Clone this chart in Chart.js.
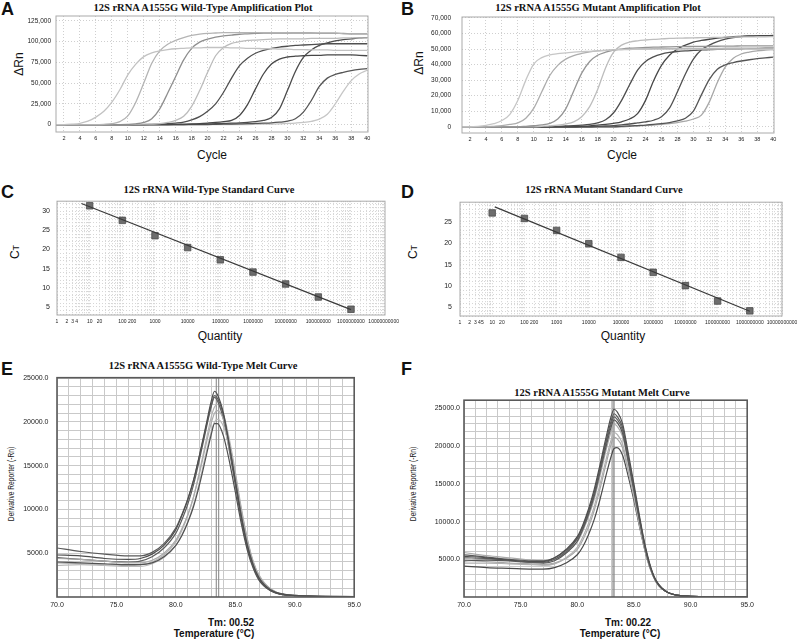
<!DOCTYPE html>
<html>
<head>
<meta charset="utf-8">
<script src="https://cdn.jsdelivr.net/npm/chart.js@4.4.0/dist/chart.umd.min.js"></script>
<style>
  html, body { margin: 0; padding: 0; background: #fff; overflow: hidden; }
  body { width: 797px; height: 639px; position: relative; font-family: "Liberation Sans", Arial, sans-serif; color: #111; }
  canvas { position: absolute; }
  .t { position: absolute; white-space: nowrap; transform: translate(-50%, -50%); line-height: 1; }
  .title { font: bold 10.5px "Liberation Serif", "Times New Roman", serif; }
  .letter { position: absolute; font: bold 18px "Liberation Sans", Arial, sans-serif; line-height: 18px; }
  .ax { font: 12px "Liberation Sans", Arial, sans-serif; }
  .rot { transform: translate(-50%, -50%) rotate(-90deg); }
  .melt { font: bold 10px "Liberation Sans", Arial, sans-serif; }
  .dr { font: 9.5px "Liberation Sans", Arial, sans-serif; color: #222; transform: translate(-50%, -50%) rotate(-90deg) scaleX(0.7); }
</style>
</head>
<body>
<div class="letter" style="left:1px;top:0px">A</div>
<div class="letter" style="left:401px;top:0px">B</div>
<div class="letter" style="left:1px;top:183px">C</div>
<div class="letter" style="left:401px;top:183px">D</div>
<div class="letter" style="left:1px;top:360px">E</div>
<div class="letter" style="left:401px;top:360px">F</div>

<div class="t title" style="left:203px;top:7px">12S rRNA A1555G Wild-Type Amplification Plot</div>
<div class="t title" style="left:598px;top:7px">12S rRNA A1555G Mutant Amplification Plot</div>
<div class="t title" style="left:209px;top:189px">12S rRNA Wild-Type Standard Curve</div>
<div class="t title" style="left:604px;top:189px">12S rRNA Mutant Standard Curve</div>
<div class="t title" style="left:203px;top:365px">12S rRNA A1555G Wild-Type Melt Curve</div>
<div class="t title" style="left:602px;top:392px">12S rRNA A1555G Mutant Melt Curve</div>

<div class="t ax rot" style="left:19px;top:64px">ΔRn</div>
<div class="t ax rot" style="left:419px;top:63px">ΔRn</div>
<div class="t ax" style="left:212px;top:155px">Cycle</div>
<div class="t ax" style="left:622px;top:155px">Cycle</div>
<div class="t ax rot" style="left:15px;top:252px">C<span style="font-size:9px">T</span></div>
<div class="t ax rot" style="left:413px;top:252px">C<span style="font-size:9px">T</span></div>
<div class="t ax" style="left:220px;top:336px">Quantity</div>
<div class="t ax" style="left:623px;top:336px">Quantity</div>
<div class="t dr" style="left:10px;top:484px">Derivative Reporter (-Rn)</div>
<div class="t dr" style="left:412px;top:484px">Derivative Reporter (-Rn)</div>
<div class="t melt" style="left:231px;top:622px">Tm: 00.52</div>
<div class="t melt" style="left:214px;top:633px">Temperature (°C)</div>
<div class="t melt" style="left:628px;top:622px">Tm: 00.22</div>
<div class="t melt" style="left:620px;top:633px">Temperature (°C)</div>

<canvas id="ampWt" width="378" height="150" style="left:0px;top:0px"></canvas>
<canvas id="ampMut" width="378" height="151" style="left:406px;top:0px"></canvas>
<canvas id="stdWt" width="405" height="143" style="left:0px;top:190px"></canvas>
<canvas id="stdMut" width="400" height="144" style="left:403px;top:190px"></canvas>
<canvas id="meltWt" width="365" height="246" style="left:0px;top:365px"></canvas>
<canvas id="meltMut" width="354" height="219" style="left:404px;top:392px"></canvas>

<script>
// amplification plots: delta Rn per cycle
const cycles = [1,2,3,4,5,6,7,8,9,10,11,12,13,14,15,16,17,18,19,20,21,22,23,24,25,26,27,28,29,30,31,32,33,34,35,36,37,38,39,40];
const cycleTicks = [2,4,6,8,10,12,14,16,18,20,22,24,26,28,30,32,34,36,38,40];
const wtRnTicks = [0, 25000, 50000, 75000, 100000, 125000];
const mutRnTicks = [0, 10000, 20000, 30000, 40000, 50000, 60000, 70000];

const wtAmp1 = [0,0,500,1500,4000,9000,16000,27000,42000,60000,73000,82000,86500,89000,90500,91500,92000,92500,92500,93000,93000,93000,92500,92500,92000,92000,91500,91500,91000,91000,90500,90500,90000,90000,90000,89500,89500,89500,89500,89500];
const wtAmp2 = [0,0,0,0,0,0,300,1000,3500,10500,27000,50000,74000,89000,97000,101500,105000,107500,109000,110000,110500,111000,111000,111000,111000,111000,111000,111000,111000,111000,110500,110500,110500,110500,110500,110500,109500,109500,109500,109500];
const wtAmp3 = [0,0,0,0,0,0,0,0,0,200,800,2500,7000,19000,38000,58000,78000,92000,99500,103000,105500,107000,108000,109000,109500,110000,110500,110500,110500,110500,110500,110500,110500,110000,110000,110000,110000,109500,109500,109500];
const wtAmp4 = [0,0,0,0,0,0,0,0,0,0,200,400,600,1000,2500,5000,10000,22000,41000,63000,83000,93000,98000,100000,101500,102000,102500,103000,103500,103500,103500,103500,104000,104000,104000,104000,104500,104500,104500,104500];
const wtAmp5 = [0,0,0,0,0,0,0,0,0,0,0,0,200,500,1000,1800,3000,5500,9500,16000,25000,39000,56000,71000,80000,86000,89500,92000,93500,94500,95500,96000,96500,97000,97500,97500,97500,97500,97500,97500];
const wtAmp6 = [0,0,0,0,0,0,0,0,0,0,0,0,0,0,0,200,500,800,1200,1800,2500,3500,5000,11000,24000,43000,61000,73000,79000,81500,82500,83000,83500,83500,84000,84000,84000,84000,83500,83000];
const wtAmp7 = [0,0,0,0,0,0,0,0,0,0,0,0,0,0,0,0,0,300,500,800,1000,1300,1600,2000,2600,3500,5000,8500,19000,41000,64000,81000,90000,95500,98500,101000,102500,103500,104500,105000];
const wtAmp8 = [0,0,0,0,0,0,0,0,0,0,0,0,0,0,0,0,0,0,0,0,200,400,600,800,1000,1300,1600,2000,2800,4000,7000,15000,29000,46000,56000,60500,63000,65000,66500,67500];
const wtAmp9 = [0,0,0,0,0,0,0,0,0,0,0,0,0,0,0,0,0,0,0,0,0,0,0,0,0,200,400,600,900,1300,1800,2500,3800,6500,12500,25000,40000,53000,61000,65500];

const mutAmp1 = [0,0,300,900,2000,4000,8000,17000,30000,40500,44500,46200,47000,47500,48000,48300,48500,48800,49200,49500,49600,49700,49800,49800,49900,49900,50000,50000,50000,50000,50000,50000,50000,50000,49900,49900,49800,49800,49700,49700];
const mutAmp2 = [0,0,0,0,300,700,1500,2500,5500,12000,22500,33000,39500,43500,45800,47200,48200,48800,49200,49500,49700,49900,50000,50100,50200,50200,50300,50300,50300,50400,50400,50400,50400,50500,50500,50500,50500,50500,50500,50500];
const mutAmp3 = [0,0,0,0,0,0,0,0,300,700,1200,2200,5000,11500,23000,34500,42000,46000,48000,49300,50000,50500,50800,51000,51200,51300,51400,51500,51600,51700,51700,51800,51800,51900,51900,52000,52000,52000,52000,52000];
const mutAmp4 = [0,0,0,0,0,0,0,0,0,0,300,600,1000,1800,3200,6500,13000,24000,38000,48000,52500,54500,55300,55800,56200,56500,56800,57000,57100,57200,57300,57400,57500,57600,57700,57800,57800,57900,57900,58000];
const mutAmp5 = [0,0,0,0,0,0,0,0,0,0,0,0,300,500,700,1000,1500,2500,4500,9000,17000,27000,36500,42000,45000,46800,47800,48400,48800,49100,49400,49600,49800,49900,50000,50000,50200,50300,50500,50600];
const mutAmp6 = [0,0,0,0,0,0,0,0,0,0,0,0,0,0,0,300,600,1000,1500,2200,3200,5000,8500,17000,29500,39500,46000,50000,52500,54500,55500,56300,57000,57500,58000,58200,58400,58500,58600,58600];
const mutAmp7 = [0,0,0,0,0,0,0,0,0,0,0,0,0,0,0,0,0,300,500,800,1200,1800,2500,3200,4200,6500,12000,22500,34000,43500,49500,52500,54800,56300,57300,58000,58300,58500,58600,58700];
const mutAmp8 = [0,0,0,0,0,0,0,0,0,0,0,0,0,0,0,0,0,0,0,0,300,500,800,1100,1500,2000,2700,3800,5500,10000,20500,30500,37000,39900,41300,42300,43100,43800,44300,44800];
const mutAmp9 = [0,0,0,0,0,0,0,0,0,0,0,0,0,0,0,0,0,0,0,0,0,300,500,800,1100,1500,2000,2700,3600,5000,7500,16000,28500,38500,44000,46800,48000,48800,49300,49700];

// standard curves: Ct against starting quantity
const quantities = [10, 100, 1000, 10000, 100000, 1000000, 10000000, 100000000, 1000000000];
const wtCt = [31.4, 27.6, 23.6, 20.5, 17.3, 14.1, 11.0, 7.6, 4.4];
const mutCt = [27.1, 25.8, 23.0, 19.9, 16.7, 13.2, 10.1, 6.5, 4.2];
const wtFitX = [5.6, 1000000000];
const wtFitY = [32.0, 4.3];
const mutFitX = [12, 1000000000];
const mutFitY = [28.5, 4.1];
const wtQtyLabels = [1, 2, 3, 4, 10, 20, 100, 200, 1000, 10000, 100000, 1000000, 10000000, 100000000, 1000000000, 10000000000];
const mutQtyLabels = [1, 2, 3, 4, 5, 10, 20, 100, 200, 1000, 10000, 100000, 1000000, 10000000, 100000000, 1000000000, 10000000000];
const ctLabels = [5, 10, 15, 20, 25, 30];

// melt curves: derivative reporter against temperature
const meltTemps = [70,72,74,76,77,78,79,80,80.5,81,81.5,82,82.5,83,83.25,83.5,84,84.5,85,85.5,86,86.5,87,88,90,95];
const meltTempLabels = [70, 75, 80, 85, 90, 95];
const meltLabels = [5000, 10000, 15000, 20000, 25000];

const wtMelt1 = [4800,4700,4400,4300,4400,4900,5900,7700,9300,11100,13400,16300,19400,22500,23500,23100,21000,17300,13300,9300,6000,3700,2200,800,180,40];
const wtMelt2 = [5600,5200,4900,4700,4700,5100,6100,7900,9400,11200,13400,16200,19200,22000,23000,22700,20800,17200,13200,9200,5900,3600,2100,750,170,40];
const wtMelt3 = [4000,3900,3800,3700,3700,3900,4600,5900,7000,8500,10400,12900,15800,18700,19800,19800,18400,15500,12000,8400,5400,3300,1900,700,160,40];
const wtMelt4 = [4400,4300,4100,3900,3900,4200,5000,6500,7800,9400,11500,14200,17200,20000,21000,21300,20300,17600,14000,10000,6600,4000,2400,900,200,50];
const wtMelt5 = [3600,3700,3600,3500,3500,3800,4500,5900,7100,8600,10600,13200,16200,19000,20000,20300,19500,17000,13600,9800,6500,4000,2400,900,200,50];
const wtMelt6 = [4500,4300,4100,4000,4100,4600,5600,7300,8800,10600,12900,15800,18900,21900,22800,22400,20300,16700,12800,8900,5700,3500,2000,700,160,40];
const wtMelt7 = [3900,3800,3700,3600,3700,4000,4800,6300,7600,9300,11500,14400,17600,20700,21700,22000,20900,18000,14300,10200,6700,4100,2500,900,200,50];

const mutMelt1 = [5400,5200,4900,4700,4700,5200,6300,8000,9600,11700,14300,17500,20900,24000,24900,24600,23000,19100,15000,10700,6800,3900,2100,600,100,30];
const mutMelt2 = [5600,5300,5000,4800,4800,5200,6200,7800,9400,11400,13900,17100,20400,23400,24300,24000,22500,18600,14600,10400,6600,3800,2000,600,100,30];
const mutMelt3 = [5200,5100,4900,4600,4600,5000,6000,7700,9200,11200,13700,16800,20100,23000,23900,23600,22100,18300,14400,10300,6500,3700,2000,600,100,30];
const mutMelt4 = [4800,4900,4800,4600,4500,4800,5800,7400,9000,11000,13400,16500,19700,22600,23500,23200,21700,18000,14100,10100,6400,3700,2000,600,100,30];
const mutMelt5 = [5900,5500,5200,4900,4800,5000,5900,7300,8800,10700,13000,16000,19200,22000,22900,22700,21300,17800,14000,10000,6400,3700,2000,600,100,30];
const mutMelt6 = [4500,4500,4400,4300,4200,4400,5200,6600,8000,9800,12000,14900,18000,20900,21800,21600,20300,17000,13400,9600,6200,3600,1900,600,100,30];
const mutMelt7 = [4900,4700,4500,4400,4300,4500,5100,6300,7600,9300,11500,14300,17400,20300,21200,21000,19800,16700,13200,9500,6100,3600,1900,600,100,30];
const mutMelt8 = [4100,3900,3800,3700,3700,3900,4500,5600,6700,8300,10300,12900,15900,18700,19700,19800,18800,16000,12800,9300,6000,3500,1900,600,100,30];

const wtTm = [83.4, 83.6];
const mutTm = [83.15, 83.25];

(function () {
  const FONT = "Liberation Sans";
  const TICK_COLOR = "#222";

  // frame around the plot area
  const boxPlugin = {
    id: "box",
    afterDatasetsDraw(chart, args, opts) {
      const { ctx, chartArea: a } = chart;
      ctx.save();
      ctx.strokeStyle = opts.color;
      ctx.lineWidth = opts.width;
      ctx.strokeRect(a.left, a.top, a.right - a.left, a.bottom - a.top);
      ctx.restore();
    },
  };

  function pts(xs, ys) {
    return xs.map((x, i) => ({ x: x, y: ys[i] }));
  }

  function setTicks(values) {
    return (sc) => { sc.ticks = values.map((v) => ({ value: v })); };
  }

  function steps(from, to, step) {
    const out = [];
    for (let v = from; v <= to + 1e-9; v += step) out.push(Math.round(v * 1000) / 1000);
    return out;
  }

  function ampChart(id, curves, colors, yTicks, yMin, yMax, s) {
    return new Chart(document.getElementById(id), {
      type: "line",
      data: {
        datasets: curves.map((vals, i) => ({
          data: pts(cycles, vals),
          borderColor: colors[i],
          borderWidth: 1.3,
          pointRadius: 0,
          cubicInterpolationMode: "monotone",
          fill: false,
        })),
      },
      options: {
        responsive: false,
        animation: false,
        locale: "en-US",
        layout: { padding: { top: s.top, right: s.right, left: 0, bottom: 0 } },
        plugins: { legend: { display: false }, tooltip: { enabled: false }, box: { color: "#aaa", width: 1 } },
        scales: {
          x: {
            type: "linear", min: 1, max: 40.1,
            afterBuildTicks: setTicks(cycleTicks),
            afterFit: (sc) => { sc.height = 18; },
            grid: { color: "#cfcfcf", drawTicks: false },
            border: { display: false, dash: [1, 2] },
            ticks: { autoSkip: false, maxRotation: 0, padding: s.xPad,
                     color: TICK_COLOR, font: { family: FONT, size: 5.5 } },
          },
          y: {
            min: yMin, max: yMax,
            afterBuildTicks: setTicks(yTicks),
            afterFit: (sc) => { sc.width = s.yW; },
            grid: { color: "#cfcfcf", drawTicks: false },
            border: { display: false, dash: [1, 2] },
            ticks: { autoSkip: false, padding: s.yPad,
                     color: TICK_COLOR, font: { family: FONT, size: 6.5 },
                     callback: (v) => v.toLocaleString("en-US") },
          },
        },
      },
      plugins: [boxPlugin],
    });
  }

  function stdChart(id, ct, fitX, fitY, labels, yMin, yMax, xMax, s) {
    const grid = [];
    for (let k = 0; k < 10; k++) for (let m = 1; m < 10; m++) grid.push(m * Math.pow(10, k));
    grid.push(Math.pow(10, 10));
    const labelSet = new Set(labels);
    const ctSet = new Set(ctLabels);
    return new Chart(document.getElementById(id), {
      type: "scatter",
      data: {
        datasets: [
          { data: pts(fitX, fitY), showLine: true, borderColor: "#3a3a3a", borderWidth: 1.2, pointRadius: 0 },
          { data: pts(quantities, ct), pointStyle: "rect", pointRadius: 4.6,
            backgroundColor: "#6d6d6d", borderColor: "#4d4d4d", borderWidth: 0.8 },
        ],
      },
      options: {
        responsive: false,
        animation: false,
        layout: { padding: { top: s.top, right: s.right, left: 0, bottom: 0 } },
        plugins: { legend: { display: false }, tooltip: { enabled: false }, box: { color: "#aaa", width: 1 } },
        scales: {
          x: {
            type: "logarithmic", min: 1, max: xMax,
            afterBuildTicks: setTicks(grid),
            afterFit: (sc) => { sc.height = 18; },
            grid: { color: "#d0d0d0", drawTicks: false },
            border: { display: false, dash: [1, 2] },
            ticks: { autoSkip: false, maxRotation: 0, padding: s.xPad, color: TICK_COLOR,
                     font: { family: FONT, size: 5 },
                     callback: (v) => (labelSet.has(v) ? String(v) : "") },
          },
          y: {
            min: yMin, max: yMax,
            afterBuildTicks: setTicks(steps(Math.ceil(yMin), Math.floor(yMax), 1)),
            afterFit: (sc) => { sc.width = s.yW; },
            grid: { color: "#d6d6d6", drawTicks: false },
            border: { display: false, dash: [1, 2] },
            ticks: { autoSkip: false, padding: s.yPad, color: TICK_COLOR,
                     font: { family: FONT, size: 7 },
                     callback: (v) => (ctSet.has(v) ? String(v) : "") },
          },
        },
      },
      plugins: [boxPlugin],
    });
  }

  function meltChart(id, curves, colors, tms, yMax, s) {
    const sets = curves.map((vals, i) => ({
      data: pts(meltTemps, vals),
      borderColor: colors[i],
      borderWidth: 1.2,
      pointRadius: 0,
      cubicInterpolationMode: "monotone",
      fill: false,
    }));
    tms.forEach((tm) => {
      sets.push({ data: [{ x: tm, y: 0 }, { x: tm, y: yMax }], borderColor: "#8c8c8c", borderWidth: 1.1, pointRadius: 0 });
    });
    const tSet = new Set(meltTempLabels);
    const ySet = new Set(meltLabels);
    return new Chart(document.getElementById(id), {
      type: "line",
      data: { datasets: sets },
      options: {
        responsive: false,
        animation: false,
        layout: { padding: { top: s.top, right: s.right, left: 0, bottom: 0 } },
        plugins: { legend: { display: false }, tooltip: { enabled: false }, box: { color: "#5a5a5a", width: 1.6 } },
        scales: {
          x: {
            type: "linear", min: 70, max: 95,
            afterBuildTicks: setTicks(steps(70, 95, 1)),
            afterFit: (sc) => { sc.height = 14; },
            grid: { color: "#c9c9c9", drawTicks: false },
            border: { display: false },
            ticks: { autoSkip: false, maxRotation: 0, padding: 4, color: TICK_COLOR,
                     font: { family: FONT, size: 7 },
                     callback: (v) => (tSet.has(v) ? v.toFixed(1) : "") },
          },
          y: {
            min: 0, max: yMax,
            afterBuildTicks: setTicks(steps(1000, yMax, 1000)),
            afterFit: (sc) => { sc.width = s.yW; },
            grid: { color: "#c9c9c9", drawTicks: false },
            border: { display: false },
            ticks: { autoSkip: false, padding: s.yPad, color: TICK_COLOR,
                     font: { family: FONT, size: 7 },
                     callback: (v) => (ySet.has(v) ? v.toFixed(1) : "") },
          },
        },
      },
      plugins: [boxPlugin],
    });
  }

  function initFigure() {
    ampChart("ampWt",
      [wtAmp1, wtAmp2, wtAmp3, wtAmp4, wtAmp5, wtAmp6, wtAmp7, wtAmp8, wtAmp9],
      ["#c2c2c2", "#b4b4b4", "#8e8e8e", "#bcbcbc", "#4f4f4f", "#474747", "#4c4c4c", "#555555", "#c6c6c6"],
      wtRnTicks, -9000, 131000, { top: 16, right: 10, yW: 56, xPad: 3, yPad: 5 });

    ampChart("ampMut",
      [mutAmp1, mutAmp2, mutAmp3, mutAmp4, mutAmp5, mutAmp6, mutAmp7, mutAmp8, mutAmp9],
      ["#c6c6c6", "#adadad", "#959595", "#bdbdbd", "#4f4f4f", "#474747", "#505050", "#555555", "#a8a8a8"],
      mutRnTicks, -4000, 70600, { top: 17, right: 10, yW: 56, xPad: 3.5, yPad: 11 });

    stdChart("stdWt", wtCt, wtFitX, wtFitY, wtQtyLabels, 2.9, 32.6, 11000000000,
      { top: 8, right: 20, yW: 57, xPad: 4, yPad: 7 });

    stdChart("stdMut", mutCt, mutFitX, mutFitY, mutQtyLabels, 3.0, 29.6, 10000000000,
      { top: 9, right: 21, yW: 57, xPad: 3.5, yPad: 8 });

    meltChart("meltWt",
      [wtMelt1, wtMelt2, wtMelt3, wtMelt4, wtMelt5, wtMelt6, wtMelt7],
      ["#4f4f4f", "#5a5a5a", "#505050", "#ababab", "#bababa", "#5e5e5e", "#b3b3b3"],
      wtTm, 25050, { top: 8, right: 10, yW: 57, yPad: 8.5 });

    meltChart("meltMut",
      [mutMelt1, mutMelt2, mutMelt3, mutMelt4, mutMelt5, mutMelt6, mutMelt7, mutMelt8],
      ["#4f4f4f", "#5a5a5a", "#606060", "#555555", "#ababab", "#b1b1b1", "#a6a6a6", "#4a4a4a"],
      mutTm, 26100, { top: 8, right: 10, yW: 60, yPad: 4 });
  }

  if (document.readyState === "loading") document.addEventListener("DOMContentLoaded", initFigure);
  else initFigure();
})();
</script>
</body>
</html>
